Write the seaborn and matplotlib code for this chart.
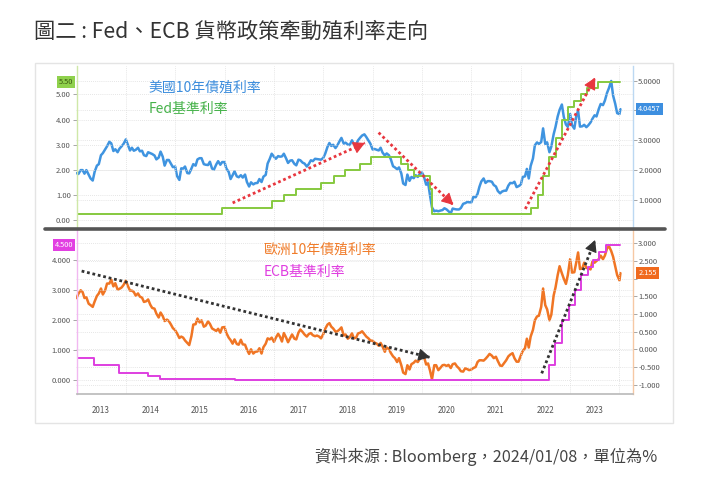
import numpy as np
import pandas as pd
import matplotlib
matplotlib.use("Agg")
import matplotlib.pyplot as plt
import matplotlib.dates as mdates
import matplotlib.patches as mpatches
import matplotlib.transforms as mtransforms
from matplotlib.ticker import FuncFormatter, NullFormatter
import seaborn as sns

sns.set_theme(style="white")
plt.rcParams["font.family"] = ["Noto Sans CJK TC", "DejaVu Sans"]

US_2013 = [1.90, 1.87, 2.00, 2.00, 1.88, 2.00, 1.85, 1.72, 1.65, 1.94, 2.15, 2.20,
           2.50, 2.57, 2.70, 2.80, 2.95, 2.90, 2.64, 2.70, 2.60, 2.72, 2.80, 2.88]
US_2014 = [3.03, 2.86, 2.66, 2.75, 2.65, 2.68, 2.75, 2.63, 2.65, 2.50, 2.47, 2.60,
           2.57, 2.54, 2.49, 2.36, 2.42, 2.62, 2.45, 2.15, 2.34, 2.34, 2.21, 2.10]
US_2015 = [2.12, 1.80, 1.67, 2.06, 2.05, 2.12, 1.90, 1.89, 2.05, 2.20, 2.15, 2.36,
           2.40, 2.40, 2.20, 2.18, 2.17, 2.28, 2.05, 2.02, 2.19, 2.30, 2.18, 2.27]
US_2016 = [2.27, 2.05, 1.94, 1.70, 1.83, 1.96, 1.79, 1.76, 1.83, 1.75, 1.85, 1.60,
           1.45, 1.59, 1.52, 1.56, 1.57, 1.70, 1.60, 1.78, 1.84, 2.22, 2.38, 2.55]
US_2017 = [2.45, 2.38, 2.47, 2.45, 2.46, 2.55, 2.39, 2.24, 2.32, 2.33, 2.21, 2.16,
           2.35, 2.33, 2.25, 2.22, 2.12, 2.20, 2.33, 2.30, 2.38, 2.37, 2.36, 2.35]
US_2018 = [2.41, 2.55, 2.78, 2.91, 2.81, 2.85, 2.74, 2.83, 2.97, 3.08, 2.89, 2.92,
           2.86, 2.84, 3.00, 2.87, 2.86, 3.00, 3.09, 3.16, 3.20, 3.11, 2.99, 2.89]
US_2019 = [2.69, 2.71, 2.68, 2.66, 2.75, 2.59, 2.49, 2.56, 2.50, 2.37, 2.13, 2.09,
           2.03, 2.09, 1.89, 1.55, 1.50, 1.85, 1.64, 1.77, 1.73, 1.83, 1.77, 1.87]
US_2020 = [1.92, 1.79, 1.51, 1.59, 1.13, 0.75, 0.62, 0.64, 0.62, 0.64, 0.66, 0.72,
           0.68, 0.62, 0.55, 0.71, 0.69, 0.68, 0.68, 0.73, 0.87, 0.89, 0.93, 0.92]
US_2021 = [0.92, 1.10, 1.09, 1.20, 1.44, 1.62, 1.72, 1.57, 1.63, 1.63, 1.61, 1.50,
           1.45, 1.30, 1.22, 1.28, 1.31, 1.31, 1.48, 1.57, 1.56, 1.61, 1.43, 1.46]
US_2022 = [1.51, 1.77, 1.79, 2.04, 1.72, 2.14, 2.39, 2.83, 2.93, 2.88, 2.94, 3.40,
           2.88, 2.93, 2.60, 2.79, 3.20, 3.45, 3.80, 4.02, 4.20, 3.79, 3.53, 3.45]
US_2023 = [3.88, 3.51, 3.39, 3.80, 4.00, 3.46, 3.47, 3.52, 3.44, 3.50, 3.60, 3.72,
           3.84, 3.80, 4.05, 4.22, 4.18, 4.33, 4.59, 4.75, 4.99, 4.50, 4.22, 3.91]
US_2024 = [3.88, 4.0457]

# German 10Y bund yield, same dates
DE_2013 = [1.45, 1.57, 1.67, 1.62, 1.45, 1.47, 1.29, 1.25, 1.20, 1.35, 1.51, 1.58,
           1.72, 1.55, 1.67, 1.86, 1.86, 1.97, 1.78, 1.87, 1.69, 1.71, 1.75, 1.82]
DE_2014 = [1.94, 1.80, 1.66, 1.66, 1.62, 1.52, 1.58, 1.49, 1.46, 1.34, 1.36, 1.41,
           1.26, 1.17, 1.15, 1.01, 0.90, 1.04, 0.94, 0.80, 0.84, 0.80, 0.70, 0.60]
DE_2015 = [0.54, 0.45, 0.32, 0.36, 0.33, 0.25, 0.18, 0.12, 0.37, 0.70, 0.71, 0.87,
           0.76, 0.82, 0.64, 0.67, 0.79, 0.72, 0.59, 0.56, 0.52, 0.58, 0.47, 0.62]
DE_2016 = [0.63, 0.46, 0.33, 0.26, 0.16, 0.28, 0.15, 0.13, 0.27, 0.14, 0.13, -0.01,
           -0.13, 0.00, -0.12, -0.07, -0.06, 0.03, -0.12, 0.06, 0.16, 0.31, 0.28, 0.33]
DE_2017 = [0.21, 0.33, 0.44, 0.35, 0.22, 0.46, 0.33, 0.20, 0.32, 0.42, 0.30, 0.28,
           0.47, 0.56, 0.49, 0.42, 0.36, 0.43, 0.46, 0.40, 0.37, 0.39, 0.36, 0.31]
DE_2018 = [0.43, 0.58, 0.70, 0.74, 0.64, 0.59, 0.50, 0.51, 0.56, 0.62, 0.39, 0.42,
           0.30, 0.34, 0.45, 0.31, 0.33, 0.45, 0.47, 0.51, 0.43, 0.36, 0.31, 0.25]
DE_2019 = [0.24, 0.19, 0.16, 0.10, 0.18, 0.08, -0.07, 0.05, 0.01, -0.10, -0.20, -0.25,
           -0.36, -0.25, -0.45, -0.66, -0.70, -0.45, -0.57, -0.42, -0.38, -0.32, -0.36, -0.28]
DE_2020 = [-0.19, -0.20, -0.43, -0.40, -0.61, -0.85, -0.45, -0.45, -0.59, -0.53, -0.45, -0.44,
           -0.47, -0.44, -0.53, -0.42, -0.40, -0.48, -0.54, -0.62, -0.63, -0.54, -0.56, -0.59]
DE_2021 = [-0.57, -0.53, -0.50, -0.36, -0.31, -0.31, -0.32, -0.27, -0.20, -0.13, -0.18, -0.25,
           -0.21, -0.33, -0.46, -0.47, -0.38, -0.31, -0.20, -0.15, -0.11, -0.25, -0.35, -0.35]
DE_2022 = [-0.18, -0.05, 0.03, 0.30, 0.05, 0.36, 0.55, 0.82, 0.93, 0.95, 1.20, 1.72,
           1.25, 1.13, 0.82, 0.98, 1.52, 1.75, 2.10, 2.35, 2.15, 2.00, 1.85, 2.10]
DE_2023 = [2.55, 2.17, 2.18, 2.45, 2.74, 2.27, 2.29, 2.45, 2.30, 2.30, 2.26, 2.48,
           2.45, 2.50, 2.55, 2.65, 2.55, 2.65, 2.85, 2.92, 2.78, 2.62, 2.35, 2.10]
DE_2024 = [1.95, 2.155]

# policy rates: change dates and levels
FED_DATES = ["2013-01-01", "2015-12-17", "2016-12-15", "2017-03-16", "2017-06-15",
             "2017-12-14", "2018-03-22", "2018-06-14", "2018-09-27", "2018-12-20",
             "2019-08-01", "2019-09-19", "2019-10-31", "2020-03-04", "2020-03-16",
             "2022-03-17", "2022-05-05", "2022-06-16", "2022-07-28", "2022-09-22",
             "2022-11-03", "2022-12-15", "2023-02-02", "2023-03-23", "2023-05-04",
             "2023-07-27", "2024-01-08"]
FED_RATE = [0.25, 0.50, 0.75, 1.00, 1.25, 1.50, 1.75, 2.00, 2.25, 2.50, 2.25, 2.00,
            1.75, 1.25, 0.25, 0.50, 1.00, 1.75, 2.50, 3.25, 4.00, 4.50, 4.75, 5.00,
            5.25, 5.50, 5.50]
ECB_DATES = ["2013-01-01", "2013-05-08", "2013-11-13", "2014-06-11", "2014-09-10",
             "2016-03-16", "2022-07-27", "2022-09-14", "2022-11-02", "2022-12-21",
             "2023-02-08", "2023-03-22", "2023-05-10", "2023-06-21", "2023-08-02",
             "2023-09-20", "2024-01-08"]
ECB_RATE = [0.75, 0.50, 0.25, 0.15, 0.05, 0.00, 0.50, 1.25, 2.00, 2.50, 3.00, 3.50,
            3.75, 4.00, 4.25, 4.50, 4.50]

YEARS = list(range(2013, 2024))

# trend arrows (start date, start value, end date, end value), left-axis units
ARROWS_TOP = [("2016-03-01", 0.69, "2018-11-05", 3.07),
              ("2019-02-14", 3.48, "2020-08-20", 0.61),
              ("2022-02-03", 0.45, "2023-07-05", 5.66)]
ARROWS_BOT = [("2013-02-08", 3.63, "2020-03-01", 0.76),
              ("2022-06-05", 0.23, "2023-07-05", 4.66)]

dates = list(pd.date_range("2013-01-01", "2024-01-01", freq="SMS")) + [pd.Timestamp("2024-01-08")]
us = pd.DataFrame({"date": dates,
                   "val": US_2013 + US_2014 + US_2015 + US_2016 + US_2017 + US_2018 +
                          US_2019 + US_2020 + US_2021 + US_2022 + US_2023 + US_2024})
de = pd.DataFrame({"date": dates,
                   "val": DE_2013 + DE_2014 + DE_2015 + DE_2016 + DE_2017 + DE_2018 +
                          DE_2019 + DE_2020 + DE_2021 + DE_2022 + DE_2023 + DE_2024})
fed = pd.DataFrame({"date": pd.to_datetime(FED_DATES), "val": FED_RATE})
ecb = pd.DataFrame({"date": pd.to_datetime(ECB_DATES), "val": ECB_RATE})

C_BLUE, C_GREEN = "#3f94e0", "#86c93f"
C_ORANGE, C_MAG = "#f07524", "#de3fe0"
C_RED, C_BLK = "#e8373f", "#333333"

W, H = 725, 491
fig = plt.figure(figsize=(W / 100, H / 100), dpi=100)


def box(l, t, r, b):
    return [l / W, 1 - b / H, (r - l) / W, (b - t) / H]


ax_t = fig.add_axes(box(76.5, 66, 632.7, 228.7))
ax_b = fig.add_axes(box(76.5, 229, 632.7, 394))
ax_tr = ax_t.twinx()
ax_br = ax_b.twinx()

sns.lineplot(data=us, x="date", y="val", ax=ax_tr, color=C_BLUE, lw=1.8)
sns.lineplot(data=fed, x="date", y="val", ax=ax_t, color=C_GREEN, lw=1.4, drawstyle="steps-post")
sns.lineplot(data=de, x="date", y="val", ax=ax_br, color=C_ORANGE, lw=1.8)
sns.lineplot(data=ecb, x="date", y="val", ax=ax_b, color=C_MAG, lw=1.4, drawstyle="steps-post")

xlim = (pd.Timestamp("2013-01-01"), pd.Timestamp("2024-04-08"))
ax_t.set_ylim(-0.333, 6.123)
ax_tr.set_ylim(0.034, 5.493)
ax_b.set_ylim(-0.455, 5.027)
ax_br.set_ylim(-1.264, 3.403)


def fmt(decimals, hide=None):
    # tick labels hidden where a last-value box sits on top
    def f(v, pos):
        if hide is not None and abs(v - hide) < 1e-6:
            return ""
        return f"{v:.{decimals}f}"
    return FuncFormatter(f)


ax_t.set_yticks([0, 1, 2, 3, 4, 5])
ax_tr.set_yticks([1, 2, 3, 4, 5])
ax_b.set_yticks([0, 1, 2, 3, 4])
ax_br.set_yticks(np.arange(-1, 3.01, 0.5))
ax_t.yaxis.set_major_formatter(fmt(2))
ax_tr.yaxis.set_major_formatter(fmt(4, hide=4))
ax_b.yaxis.set_major_formatter(fmt(3))
ax_br.yaxis.set_major_formatter(fmt(3, hide=2))

spine_cols = {ax_t: ("left", "#cfe8a8"), ax_tr: ("right", "#bcd8f2"),
              ax_b: ("left", "#f1b8f1"), ax_br: ("right", "#f6c8a4")}
for ax, (side, col) in spine_cols.items():
    ax.set_xlim(*xlim)
    ax.set_xlabel("")
    ax.set_ylabel("")
    for s in ax.spines.values():
        s.set_visible(False)
    ax.spines[side].set_visible(True)
    ax.spines[side].set_color(col)
    ax.spines[side].set_linewidth(1.0)
    ax.tick_params(axis="y", direction="out", length=3, width=0.6, color="#999999",
                   labelsize=5.5, labelcolor="#555555", pad=1)
    ax.xaxis.set_major_locator(mdates.YearLocator())
    ax.xaxis.set_major_formatter(NullFormatter())
    ax.grid(axis="y", color="#dddddd", lw=0.6, ls=(0, (1, 1.5)))
    ax.grid(axis="x", color="#dddddd", lw=0.6, ls=(0, (1, 1.5)))
    ax.tick_params(axis="x", length=0)

ax_b.spines["bottom"].set_visible(True)
ax_b.spines["bottom"].set_color("#bbbbbb")
ax_b.xaxis.set_minor_locator(mdates.MonthLocator(bymonth=range(1, 13, 2)))
ax_b.tick_params(axis="x", which="major", direction="out", length=15, width=0.8, color="#d0d0d0")
ax_b.tick_params(axis="x", which="minor", direction="out", length=2, width=0.6, color="#aaaaaa")

# left axes on top so the policy rates and arrows sit above the yields
for ax, axr in [(ax_t, ax_tr), (ax_b, ax_br)]:
    ax.set_zorder(axr.get_zorder() + 1)
    ax.patch.set_visible(False)

trans_b = mtransforms.blended_transform_factory(ax_b.transData, ax_b.transAxes)
for y in YEARS:
    ax_b.text(mdates.date2num(pd.Timestamp(f"{y}-07-01")), -0.101, str(y), transform=trans_b,
              ha="center", va="center", fontsize=5.8, color="#555555")


def value_box(ax, x, y, txt, fc, tc, ha):
    tr = mtransforms.blended_transform_factory(ax.transAxes, ax.transData)
    ax.text(x, y, txt, transform=tr, ha=ha, va="center", fontsize=5.3, color=tc, zorder=10,
            bbox=dict(boxstyle="square,pad=0.25", fc=fc, ec="none"), clip_on=False)


value_box(ax_t, -0.0063, 5.5, "5.50", "#8fd14c", "#3a5a10", "right")
value_box(ax_tr, 1.010, 4.0457, "4.0457", "#3d8fe0", "white", "left")
value_box(ax_b, -0.0063, 4.5, "4.500", "#e23fe2", "white", "right")
value_box(ax_br, 1.010, 2.155, "2.155", "#f06a1e", "white", "left")

ax_t.text(0.129, 0.869, "美國10年債殖利率", transform=ax_t.transAxes, fontsize=10,
          color="#3c8ddc", va="center")
ax_t.text(0.129, 0.734, "Fed基準利率", transform=ax_t.transAxes, fontsize=10,
          color="#46b24a", va="center")
ax_b.text(0.336, 0.873, "歐洲10年債殖利率", transform=ax_b.transAxes, fontsize=10,
          color="#f07c2a", va="center")
ax_b.text(0.336, 0.741, "ECB基準利率", transform=ax_b.transAxes, fontsize=10,
          color="#e03ee0", va="center")


def trend_arrow(ax, arr, col):
    x0, y0, x1, y1 = arr
    d0, d1 = pd.Timestamp(x0), pd.Timestamp(x1)
    ax.plot([d0, d1], [y0, y1], color=col, lw=2.0, ls=(0, (1, 1)), zorder=8)
    # tiny solid segment at the end just to carry the arrow head
    n0, n1 = mdates.date2num(d0), mdates.date2num(d1)
    tail = (n1 - 0.03 * (n1 - n0), y1 - 0.03 * (y1 - y0))
    ax.annotate("", xy=(n1, y1), xytext=tail,
                arrowprops=dict(arrowstyle="-|>,head_length=0.6,head_width=0.32", color=col,
                                lw=0.8, shrinkA=0, shrinkB=0), zorder=9)


for a in ARROWS_TOP:
    trend_arrow(ax_t, a, C_RED)
for a in ARROWS_BOT:
    trend_arrow(ax_b, a, C_BLK)

# panel separator and outer frame
fig.add_artist(plt.Line2D([45 / W, 665 / W], [1 - 228.7 / H] * 2, color="#555555", lw=2.6))
fig.add_artist(mpatches.Rectangle((35 / W, 1 - 423 / H), (673 - 35) / W, (423 - 63) / H,
                                  fill=False, ec="#e4e4e4", lw=1.0))

fig.text(34 / W, 1 - 31.7 / H, "圖二 : Fed、ECB 貨幣政策牽動殖利率走向", fontsize=15.3,
         color="#333333", ha="left", va="center")
fig.text(657 / W, 1 - 456.7 / H, "資料來源 : Bloomberg，2024/01/08，單位為%", fontsize=11.7,
         color="#444444", ha="right", va="center")

fig.savefig("out.png", dpi=100)
